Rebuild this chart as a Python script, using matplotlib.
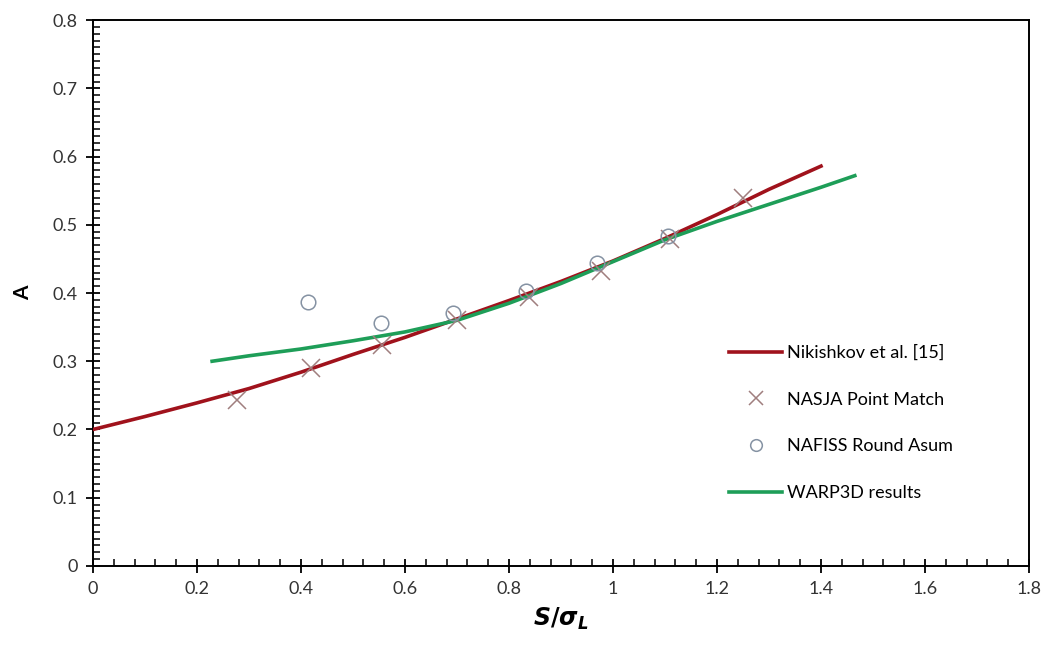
import numpy as np
import matplotlib.pyplot as plt
from matplotlib.ticker import MultipleLocator

# Nikishkov et al. curve
nik_x = [0.0, 0.1, 0.2, 0.3, 0.4, 0.5, 0.6, 0.7, 0.8, 0.9, 1.0, 1.1, 1.2, 1.3, 1.4]
nik_y = [0.200, 0.219, 0.239, 0.260, 0.284, 0.310, 0.335, 0.362, 0.389, 0.417, 0.447, 0.480, 0.515, 0.552, 0.586]

# NASJA point match
nasja_x = [0.277, 0.419, 0.556, 0.700, 0.838, 0.977, 1.110, 1.250]
nasja_y = [0.243, 0.290, 0.324, 0.360, 0.394, 0.432, 0.479, 0.539]

# NAFISS round asum
nafiss_x = [0.413, 0.554, 0.692, 0.833, 0.969, 1.106]
nafiss_y = [0.387, 0.356, 0.370, 0.403, 0.444, 0.484]

# WARP3D results
warp_x = [0.229, 0.30, 0.40, 0.50, 0.60, 0.70, 0.80, 0.90, 1.00, 1.10, 1.20, 1.30, 1.40, 1.465]
warp_y = [0.300, 0.308, 0.318, 0.330, 0.343, 0.360, 0.385, 0.414, 0.446, 0.478, 0.505, 0.530, 0.555, 0.572]

plt.rcParams['font.family'] = ['Lato', 'DejaVu Sans']
plt.rcParams['mathtext.fontset'] = 'custom'
plt.rcParams['mathtext.it'] = 'DejaVu Sans:italic:bold'
plt.rcParams['mathtext.rm'] = 'DejaVu Sans:bold'

fig = plt.figure(figsize=(10.5, 6.49), dpi=100)
ax = fig.add_axes([0.0886, 0.128, 0.8914, 0.841])

ax.plot(nik_x, nik_y, color='#A0121C', lw=2.6, label='Nikishkov et al. [15]', zorder=3)
ax.plot(nasja_x, nasja_y, ls='none', marker='x', ms=13, mew=1.1,
        color='#A07E7E', label='NASJA Point Match', zorder=4)
ax.plot(nafiss_x, nafiss_y, ls='none', marker='o', ms=10.5, mew=1.1,
        mfc='none', mec='#8592A3', label='NAFISS Round Asum', zorder=4)
ax.plot(warp_x, warp_y, color='#1E9E58', lw=2.6, label='WARP3D results', zorder=3)

ax.set_xlim(0, 1.8)
ax.set_ylim(0, 0.8)
ax.xaxis.set_major_locator(MultipleLocator(0.2))
ax.xaxis.set_minor_locator(MultipleLocator(0.04))
ax.yaxis.set_major_locator(MultipleLocator(0.1))
ax.yaxis.set_minor_locator(MultipleLocator(0.01))
ax.xaxis.set_major_formatter(plt.FuncFormatter(lambda v, p: '%g' % round(v, 2)))
ax.yaxis.set_major_formatter(plt.FuncFormatter(lambda v, p: '%g' % round(v, 2)))

ax.tick_params(which='major', direction='inout', length=10, width=1.3,
               labelsize=13, colors='black', labelcolor='#333333', pad=6)
ax.tick_params(which='minor', direction='in', length=5, width=1.1)
for s in ax.spines.values():
    s.set_linewidth(1.4)

ax.set_xlabel(r'$S/\sigma_L$', fontsize=17, labelpad=6)
ax.set_ylabel('A', fontsize=15, fontweight='bold', labelpad=14)

leg = ax.legend(loc='upper left', bbox_to_anchor=(0.68, 0.405), frameon=False,
                fontsize=13, labelspacing=1.7, handlelength=2.9, handletextpad=0.3,
                markerscale=0.8, borderpad=0, borderaxespad=0)

fig.savefig('out.png', dpi=100)
